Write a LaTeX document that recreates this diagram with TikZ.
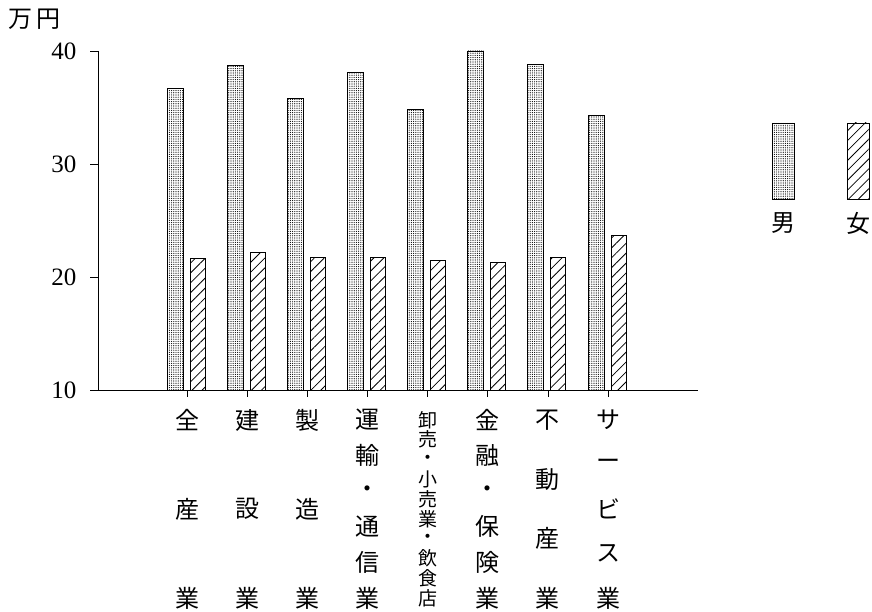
\documentclass[tikz,border=0pt]{standalone}
\usepackage{fontspec}
\setmainfont{Liberation Serif}
\newfontfamily\jpfont{Noto Sans CJK JP}
\usetikzlibrary{patterns.meta}

\tikzset{
  malebar/.style={draw=black, line width=0.9pt,
    pattern={Dots[distance=2.2pt, radius=0.6pt]}, pattern color=black},
  femalebar/.style={draw=black, line width=0.9pt,
    pattern={Lines[angle=45, distance=7pt, line width=0.8pt]}},
  ticklabel/.style={anchor=east, font=\fontsize{25}{27}\selectfont},
  catchar/.style={font=\jpfont\fontsize{#1}{#1}\selectfont, inner sep=0pt},
  catchar/.default=24,
}

\begin{document}
\begin{tikzpicture}[x=1pt, y=-1pt]
    \useasboundingbox (0,0) rectangle (872,612);
    % axes
    \draw[line width=0.8pt] (98,51) coordinate (ytop) -- (98,390) coordinate (org);
    \draw[line width=0.8pt] (90,390) -- (698,390) coordinate (xend);
    \node[catchar, anchor=west] (unit) at (8,19) {万\,円};
    \foreach \v in {10,20,30,40} {
      \draw[line width=0.8pt] (90,{390-11.3*(\v-10)}) -- (98,{390-11.3*(\v-10)});
      \node[ticklabel] (yl\v) at (80,{390-11.3*(\v-10)}) {\v};
    }
    % bars and labels
    \foreach \m/\f/\n/\lab [count=\k] in {
        36.7/21.6/3/{全,産,業},
        38.7/22.2/3/{建,設,業},
        35.8/21.7/3/{製,造,業},
        38.1/21.7/6/{運,輸,・,通,信,業},
        34.8/21.5/10/{卸,売,・,小,売,業,・,飲,食,店},
        40.0/21.3/6/{金,融,・,保,険,業},
        38.8/21.7/4/{不,動,産,業},
        34.3/23.7/5/{サ,ー,ビ,ス,業}} {
      \pgfmathsetmacro{\xc}{187+60.15*(\k-1)}
      \pgfmathsetmacro{\fs}{\n>8 ? 19 : 24}
      \draw[malebar] (\xc-20,390) rectangle (\xc-4,{390-11.3*(\m-10)});
      \draw[femalebar] (\xc+3,390) rectangle (\xc+18,{390-11.3*(\f-10)});
      \draw[line width=0.8pt] (\xc,390) -- (\xc,397);
      \foreach \c [count=\i] in \lab {
        \node[catchar=\fs] (c\k-\i) at (\xc,{420+(\i-1)*178/(\n-1)}) {\c};
      }
    }
    % legend
    \draw[malebar] (772,123) rectangle (794,199);
    \draw[femalebar] (847,123) rectangle (869,199);
    \node[catchar] (lm) at (783,223) {男};
    \node[catchar] (lf) at (858,223) {女};
\end{tikzpicture}
\end{document}
